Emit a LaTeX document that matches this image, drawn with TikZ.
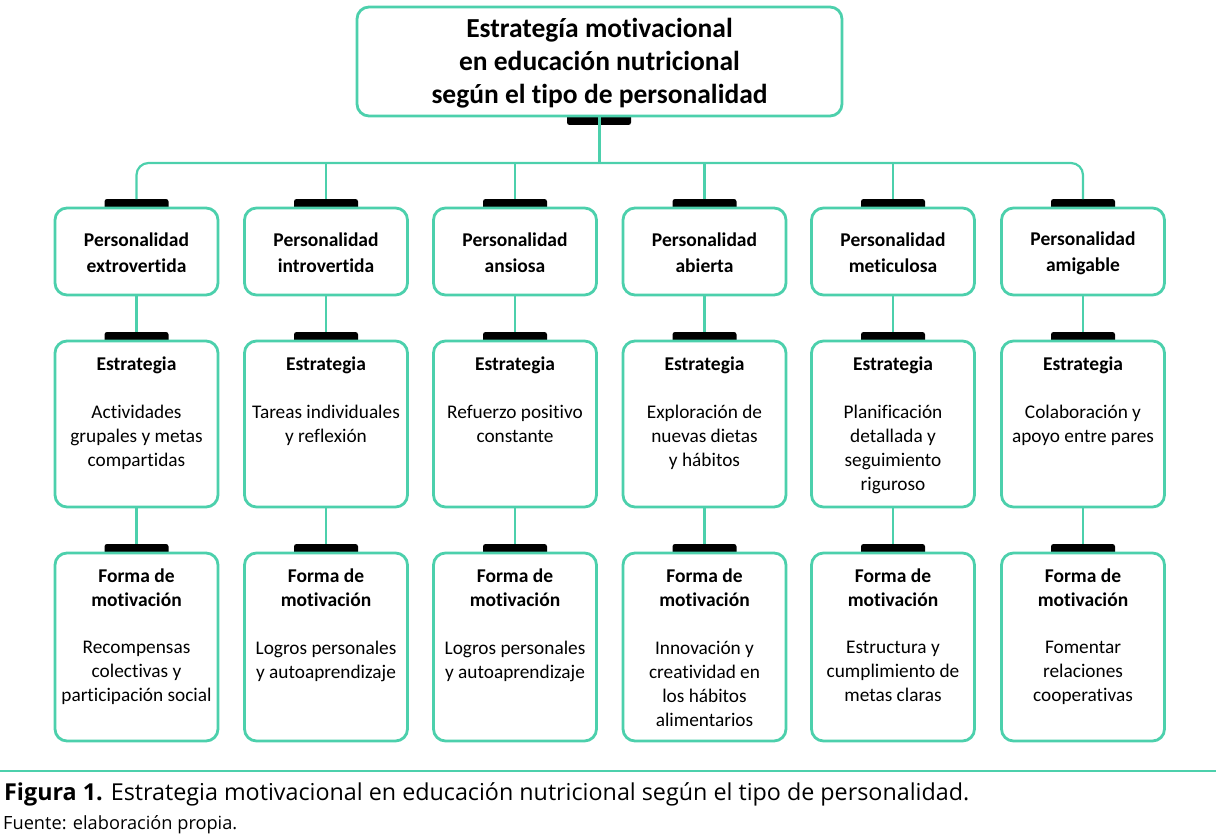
\documentclass[tikz,border=0pt]{standalone}
\usepackage{fontspec}
\setmainfont[Ligatures={NoCommon,NoRare,NoDiscretionary}]{Carlito}
\newfontfamily\capfont{Open Sans}
\definecolor{teal}{RGB}{76,208,172}
\begin{document}
\begin{tikzpicture}[x=1pt,y=-1pt,
  box/.style={draw=teal,line width=2.8pt,rounded corners=12pt,fill=white,minimum width=163pt,inner sep=0pt},
  conn/.style={draw=teal,line width=2.2pt},
  tabtop/.style={fill=black,rounded corners=2.5pt},
  hd/.style={font=\bfseries\fontsize{19.5}{23.5}\selectfont,align=center,anchor=north,inner sep=0pt},
  bd/.style={font=\fontsize{19.3}{24}\selectfont,align=center,anchor=north,inner sep=0pt}]
\useasboundingbox (0,0) rectangle (1225,837);
% top
\fill[tabtop] (567,112) rectangle (631,125);
\node[box,minimum width=485pt,minimum height=109pt] (top) at (599.5,61.5) {};
\node[font=\bfseries\fontsize{27.5}{33}\selectfont,align=center,inner sep=0pt] (toptxt) at ([yshift=-1.5pt]top.center) {Estrategía motivacional\\en educación nutricional\\según el tipo de personalidad};
\coordinate (bus) at (599.5,163);
\draw[conn] (top.south) -- (bus);
\foreach \i/\x in {1/136.5,2/326,3/515,4/704.5,5/893,6/1083}{
  \fill[tabtop] (\x-32,199) rectangle (\x+32,212);
  \fill[tabtop] (\x-32,332) rectangle (\x+32,345);
  \fill[tabtop] (\x-32,544) rectangle (\x+32,557);
  \node[box,minimum height=87pt] (p\i) at (\x,251.5) {};
  \node[box,minimum height=166pt] (s\i) at (\x,424) {};
  \node[box,minimum height=188pt] (f\i) at (\x,647) {};
  \coordinate (pt\i) at (\x,199);
  \coordinate (st\i) at (\x,332);
  \coordinate (ft\i) at (\x,544);
  \draw[conn] (p\i.south) -- (st\i);
  \draw[conn] (s\i.south) -- (ft\i);
  \node[hd] (sh\i) at (\x,357) {Estrategia};
  \node[hd] (fh\i) at (\x,569) {Forma de\\motivación};
}
\draw[conn,rounded corners=12pt] (pt1) |- (bus) -| (pt6);
\foreach \i in {2,3,4,5}{ \draw[conn] (pt\i) -- (pt\i |- bus); }
% row 1 texts
\tikzset{ph/.style={hd,font=\bfseries\fontsize{19.5}{26}\selectfont,anchor=center}}
\node[ph] (pl1) at ([yshift=-1.5pt]p1.center) {Personalidad\\extrovertida};
\node[ph] (pl2) at ([yshift=-1.5pt]p2.center) {Personalidad\\introvertida};
\node[ph] (pl3) at ([yshift=-1.5pt]p3.center) {Personalidad\\ansiosa};
\node[ph] (pl4) at ([yshift=-1.5pt]p4.center) {Personalidad\\abierta};
\node[ph] (pl5) at ([yshift=-1.5pt]p5.center) {Personalidad\\meticulosa};
\node[ph] (pl6) at ([yshift=-1.5pt]p6.center) {Personalidad\\amigable};
% row 2 texts
\node[bd] (sb1) at (136.5,405) {Actividades\\grupales y metas\\compartidas};
\node[bd] (sb2) at (326,405) {Tareas individuales\\y reflexión};
\node[bd] (sb3) at (515,405) {Refuerzo positivo\\constante};
\node[bd] (sb4) at (704.5,405) {Exploración de\\nuevas dietas\\y hábitos};
\node[bd] (sb5) at (893,405) {Planificación\\detallada y\\seguimiento\\riguroso};
\node[bd] (sb6) at (1083,405) {Colaboración y\\apoyo entre pares};
% row 3 texts
\node[bd] (fb1) at (136.5,641) {Recompensas\\colectivas y\\participación social};
\node[bd] (fb2) at (326,641) {Logros personales\\y autoaprendizaje};
\node[bd] (fb3) at (515,641) {Logros personales\\y autoaprendizaje};
\node[bd] (fb4) at (704.5,641) {Innovación y\\creatividad en\\los hábitos\\alimentarios};
\node[bd] (fb5) at (893,641) {Estructura y\\cumplimiento de\\metas claras};
\node[bd] (fb6) at (1083,641) {Fomentar\\relaciones\\cooperativas};
% caption
\draw[draw=teal,line width=1.5pt] (0,771) -- (1216,771);
\node[anchor=base west,inner sep=0pt,font=\capfont\fontsize{23.3}{26}\selectfont] (cap) at (4,800) {\textbf{Figura 1.} Estrategia motivacional en educación nutricional según el tipo de personalidad.};
\node[anchor=base west,inner sep=0pt,font=\capfont\fontsize{18.2}{20}\selectfont] (src) at (3,829) {Fuente: elaboración propia.};
\end{tikzpicture}
\end{document}
